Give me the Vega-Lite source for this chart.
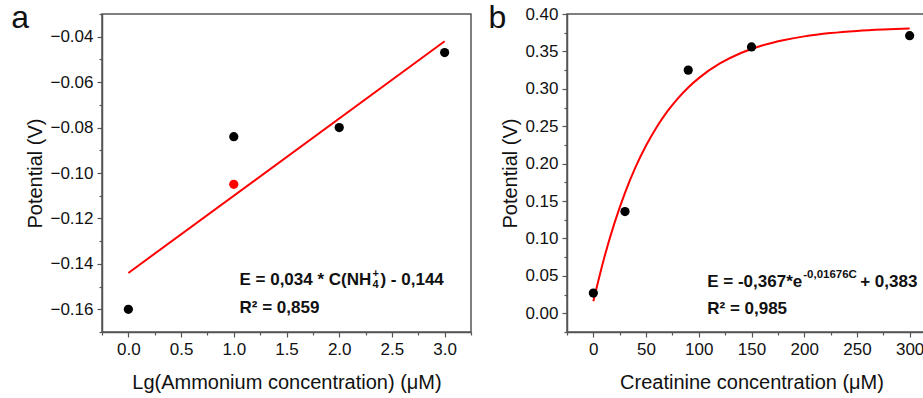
{
  "$schema": "https://vega.github.io/schema/vega-lite/v6.json",
  "background": "white",
  "padding": {"left": 10, "top": 1, "right": 0, "bottom": 0},
  "config": {
    "font": "Liberation Sans",
    "view": {"stroke": "#555", "strokeWidth": 1.5},
    "axis": {"labelFont": "Liberation Sans", "titleFont": "Liberation Sans", "labelFontSize": 17, "titleFontSize": 20, "titleFontWeight": "normal", "domainColor": "#555", "tickColor": "#555", "labelColor": "#111", "titleColor": "#111", "grid": false, "tickSize": 5, "domainWidth": 1.5, "tickWidth": 1.2, "labelPadding": 4},
    "axisBottom": {"titlePadding": 15},
    "concat": {"spacing": 14}
  },
  "hconcat": [
    {
      "width": 369, "height": 318,
      "resolve": {"axis": {"x": "independent", "y": "independent"}},
      "layer": [
        {
          "data": {"values": [{"x": 0, "y": -0.144}, {"x": 3, "y": -0.042}]},
          "mark": {"type": "line", "color": "#ff0000", "strokeWidth": 2},
          "encoding": {
            "x": {"field": "x", "type": "quantitative", "scale": {"domain": [-0.25, 3.25], "nice": false, "zero": false}, "axis": {"orient": "bottom", "values": [0, 0.5, 1, 1.5, 2, 2.5, 3], "format": ".1f", "title": "Lg(Ammonium concentration) (μM)"}},
            "y": {"field": "y", "type": "quantitative", "scale": {"domain": [-0.17, -0.03], "nice": false, "zero": false}, "axis": {"orient": "left", "values": [-0.16, -0.14, -0.12, -0.1, -0.08, -0.06, -0.04], "format": ".2f", "title": "Potential (V)"}}
          }
        },
        {
          "data": {"values": [{"x": 0, "y": -0.160}, {"x": 1, "y": -0.084}, {"x": 2, "y": -0.080}, {"x": 3, "y": -0.047}]},
          "mark": {"type": "point", "filled": true, "color": "#000", "size": 85, "opacity": 1},
          "encoding": {
            "x": {"field": "x", "type": "quantitative", "axis": {"orient": "bottom", "values": [-0.25, 0.25, 0.75, 1.25, 1.75, 2.25, 2.75, 3.25], "labels": false, "domain": false, "tickSize": 3, "title": null}},
            "y": {"field": "y", "type": "quantitative", "axis": {"orient": "left", "values": [-0.17, -0.15, -0.13, -0.11, -0.09, -0.07, -0.05, -0.03], "labels": false, "domain": false, "tickSize": 3, "title": null}}
          }
        },
        {
          "data": {"values": [{"x": 1, "y": -0.105}]},
          "mark": {"type": "point", "filled": true, "color": "#ff0000", "size": 85, "opacity": 1},
          "encoding": {
            "x": {"field": "x", "type": "quantitative", "axis": null},
            "y": {"field": "y", "type": "quantitative", "axis": null}
          }
        },
        {
          "data": {"values": [{"line": 1}]},
          "layer": [
            {"mark": {"type": "text", "text": "a", "align": "left", "baseline": "alphabetic", "fontSize": 32, "color": "#111"},
             "encoding": {"x": {"datum": -1.111, "type": "quantitative", "axis": null}, "y": {"datum": -0.0362, "type": "quantitative", "axis": null}}},
            {"mark": {"type": "text", "text": "E = 0,034 * C(NH", "align": "left", "baseline": "middle", "fontSize": 17, "fontWeight": "bold", "color": "#111"},
             "encoding": {"x": {"datum": 1.054, "type": "quantitative", "axis": null}, "y": {"datum": -0.1473, "type": "quantitative", "axis": null}}},
            {"mark": {"type": "text", "text": "+", "align": "left", "baseline": "middle", "fontSize": 11, "fontWeight": "bold", "color": "#111", "dx": 133, "dy": -6},
             "encoding": {"x": {"datum": 1.054, "type": "quantitative", "axis": null}, "y": {"datum": -0.1473, "type": "quantitative", "axis": null}}},
            {"mark": {"type": "text", "text": "4", "align": "left", "baseline": "middle", "fontSize": 11, "fontWeight": "bold", "color": "#111", "dx": 133, "dy": 5},
             "encoding": {"x": {"datum": 1.054, "type": "quantitative", "axis": null}, "y": {"datum": -0.1473, "type": "quantitative", "axis": null}}},
            {"mark": {"type": "text", "text": ") - 0,144", "align": "left", "baseline": "middle", "fontSize": 17, "fontWeight": "bold", "color": "#111", "dx": 141},
             "encoding": {"x": {"datum": 1.054, "type": "quantitative", "axis": null}, "y": {"datum": -0.1473, "type": "quantitative", "axis": null}}},
            {"mark": {"type": "text", "text": "R² = 0,859", "align": "left", "baseline": "middle", "fontSize": 17, "fontWeight": "bold", "color": "#111"},
             "encoding": {"x": {"datum": 1.054, "type": "quantitative", "axis": null}, "y": {"datum": -0.1596, "type": "quantitative", "axis": null}}}
          ]
        }
      ]
    },
    {
      "width": 369, "height": 318,
      "resolve": {"axis": {"x": "independent", "y": "independent"}},
      "layer": [
        {
          "data": {"values": [
            {"x": 0, "y": 0.016}, {"x": 10, "y": 0.0726}, {"x": 20, "y": 0.1205}, {"x": 30, "y": 0.161}, {"x": 40, "y": 0.1953},
            {"x": 50, "y": 0.2242}, {"x": 60, "y": 0.2487}, {"x": 70, "y": 0.2695}, {"x": 80, "y": 0.287}, {"x": 90, "y": 0.3018},
            {"x": 100, "y": 0.3143}, {"x": 120, "y": 0.3339}, {"x": 140, "y": 0.3479}, {"x": 160, "y": 0.3579}, {"x": 180, "y": 0.365},
            {"x": 200, "y": 0.3701}, {"x": 225, "y": 0.3745}, {"x": 250, "y": 0.3774}, {"x": 275, "y": 0.3793}, {"x": 300, "y": 0.3806}
          ]},
          "mark": {"type": "line", "color": "#ff0000", "strokeWidth": 2, "interpolate": "monotone"},
          "encoding": {
            "x": {"field": "x", "type": "quantitative", "scale": {"domain": [-25, 325], "nice": false, "zero": false}, "axis": {"orient": "bottom", "values": [0, 50, 100, 150, 200, 250, 300], "title": "Creatinine concentration (μM)"}},
            "y": {"field": "y", "type": "quantitative", "scale": {"domain": [-0.025, 0.40], "nice": false, "zero": false}, "axis": {"orient": "left", "values": [0, 0.05, 0.1, 0.15, 0.2, 0.25, 0.3, 0.35, 0.4], "format": ".2f", "title": "Potential (V)"}}
          }
        },
        {
          "data": {"values": [{"x": 0, "y": 0.027}, {"x": 30, "y": 0.136}, {"x": 90, "y": 0.325}, {"x": 150, "y": 0.356}, {"x": 300, "y": 0.371}]},
          "mark": {"type": "point", "filled": true, "color": "#000", "size": 85, "opacity": 1},
          "encoding": {
            "x": {"field": "x", "type": "quantitative", "axis": {"orient": "bottom", "values": [-25, 25, 75, 125, 175, 225, 275, 325], "labels": false, "domain": false, "tickSize": 3, "title": null}},
            "y": {"field": "y", "type": "quantitative", "axis": {"orient": "left", "values": [-0.025, 0.025, 0.075, 0.125, 0.175, 0.225, 0.275, 0.325, 0.375], "labels": false, "domain": false, "tickSize": 3, "title": null}}
          }
        },
        {
          "data": {"values": [{"line": 1}]},
          "layer": [
            {"mark": {"type": "text", "text": "b", "align": "left", "baseline": "alphabetic", "fontSize": 32, "color": "#111"},
             "encoding": {"x": {"datum": -99.4, "type": "quantitative", "axis": null}, "y": {"datum": 0.3813, "type": "quantitative", "axis": null}}},
            {"mark": {"type": "text", "text": "E = -0,367*e", "align": "left", "baseline": "middle", "fontSize": 17, "fontWeight": "bold", "color": "#111"},
             "encoding": {"x": {"datum": 108, "type": "quantitative", "axis": null}, "y": {"datum": 0.0417, "type": "quantitative", "axis": null}}},
            {"mark": {"type": "text", "text": "-0,01676C", "align": "left", "baseline": "middle", "fontSize": 11.5, "fontWeight": "bold", "color": "#111", "dx": 96, "dy": -7},
             "encoding": {"x": {"datum": 108, "type": "quantitative", "axis": null}, "y": {"datum": 0.0417, "type": "quantitative", "axis": null}}},
            {"mark": {"type": "text", "text": "+ 0,383", "align": "left", "baseline": "middle", "fontSize": 17, "fontWeight": "bold", "color": "#111", "dx": 153},
             "encoding": {"x": {"datum": 108, "type": "quantitative", "axis": null}, "y": {"datum": 0.0417, "type": "quantitative", "axis": null}}},
            {"mark": {"type": "text", "text": "R² = 0,985", "align": "left", "baseline": "middle", "fontSize": 17, "fontWeight": "bold", "color": "#111"},
             "encoding": {"x": {"datum": 108, "type": "quantitative", "axis": null}, "y": {"datum": 0.0056, "type": "quantitative", "axis": null}}}
          ]
        }
      ]
    }
  ]
}
